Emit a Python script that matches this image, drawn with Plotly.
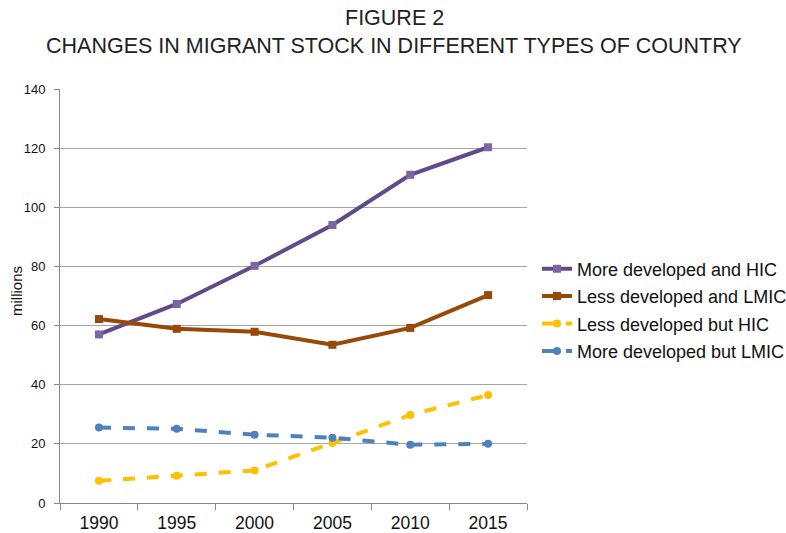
import plotly.graph_objects as go

years = ["1990", "1995", "2000", "2005", "2010", "2015"]
more_dev_hic = [57.0, 67.3, 80.2, 94.0, 111.0, 120.3]
less_dev_lmic = [62.2, 58.9, 57.9, 53.5, 59.2, 70.3]
less_dev_hic = [7.5, 9.2, 11.0, 20.3, 29.8, 36.5]
more_dev_lmic = [25.5, 25.1, 23.1, 22.1, 19.7, 20.0]

series = [
    ("More developed and HIC", more_dev_hic, "#5F4B8B", "#8064A2", "square", "solid"),
    ("Less developed and LMIC", less_dev_lmic, "#984807", "#984807", "square", "solid"),
    ("Less developed but HIC", less_dev_hic, "#FFC000", "#FFC000", "circle", "dash"),
    ("More developed but LMIC", more_dev_lmic, "#4F81BD", "#4F81BD", "circle", "dash"),
]

fig = go.Figure()
for i, (name, vals, lc, mc, sym, dash) in enumerate(series):
    fig.add_trace(go.Scatter(
        x=years, y=vals, name=name, mode="lines+markers", legendgroup=f"g{i}",
        line=dict(color=lc, width=4, dash=dash),
        marker=dict(color=mc, symbol=sym, size=8),
    ))

font = "Liberation Sans, Arial, sans-serif"
W, H = 786, 533
L, R, T, B = 60, 259, 89, 30

# page-pixel to paper coords
def px_x(p):
    return (p - L) / (W - L - R)

def px_y(p):
    return (H - B - p) / (H - T - B)

fig.update_layout(
    width=W, height=H,
    margin=dict(l=L, r=R, t=T, b=B, autoexpand=False),
    paper_bgcolor="white", plot_bgcolor="white",
    font=dict(family=font, color="#222"),
    showlegend=True,
    legend=dict(
        x=px_x(537), xanchor="left", y=px_y(310), yanchor="middle",
        font=dict(size=18, family=font, color="#111"),
        bgcolor="rgba(0,0,0,0)", tracegroupgap=1, itemwidth=30,
    ),
    xaxis=dict(
        type="category", tickson="boundaries", ticks="outside", ticklen=6,
        tickcolor="#888", showline=True, linecolor="#888", linewidth=1,
        showgrid=False, tickfont=dict(size=17.5, family=font, color="#111"),
        range=[-0.5, 5.5], automargin=False, ticklabelstandoff=4,
    ),
    yaxis=dict(
        range=[0, 140], dtick=20, ticks="outside", ticklen=5, tickcolor="#888",
        showline=True, linecolor="#888", linewidth=1,
        showgrid=True, gridcolor="#A6A6A6", gridwidth=1,
        tickfont=dict(size=13, family=font, color="#111"),
        zeroline=False, automargin=False, ticklabelstandoff=6,
    ),
    annotations=[
        dict(text="FIGURE 2", xref="paper", yref="paper", x=px_x(394), y=px_y(18),
             xanchor="center", yanchor="middle", showarrow=False,
             font=dict(size=21.5, family=font, color="#222")),
        dict(text="CHANGES IN MIGRANT STOCK IN DIFFERENT TYPES OF COUNTRY", xref="paper", yref="paper",
             x=px_x(394), y=px_y(46), xanchor="center", yanchor="middle", showarrow=False,
             font=dict(size=21.5, family=font, color="#222")),
        dict(text="millions", xref="paper", yref="paper", x=px_x(16), y=px_y(291),
             xanchor="center", yanchor="middle", showarrow=False, textangle=-90,
             font=dict(size=15, family=font, color="#111")),
    ],
)

fig.write_html("out.html", config={"displayModeBar": False},
               post_script="document.body.style.margin='0';")
